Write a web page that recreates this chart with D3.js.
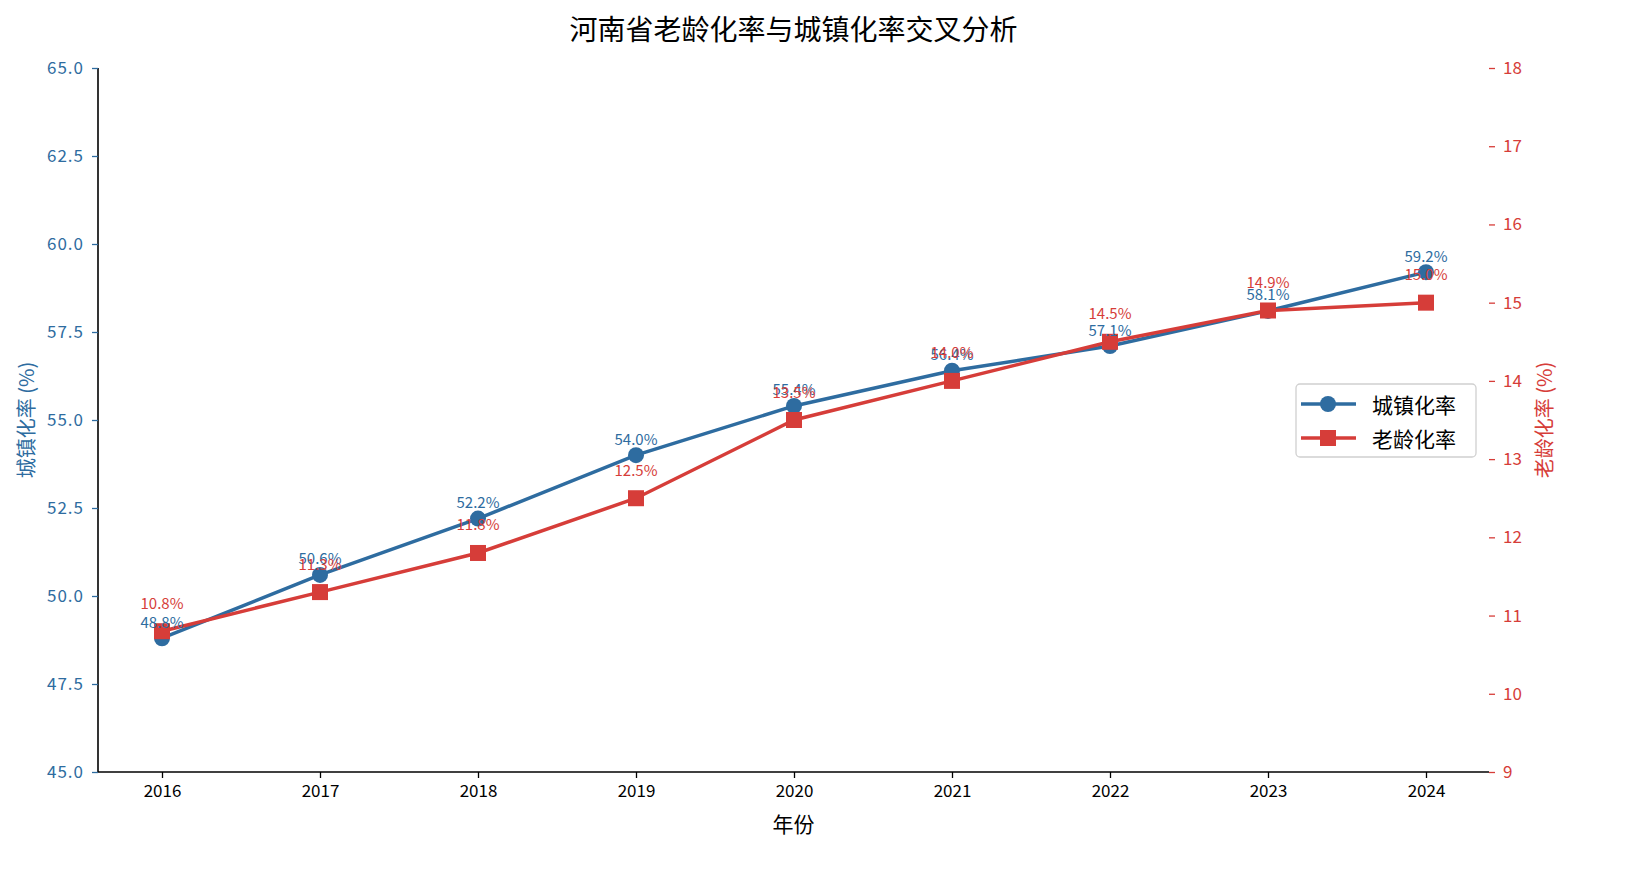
<!DOCTYPE html>
<html>
<head>
<meta charset="utf-8">
<script src="https://cdn.jsdelivr.net/npm/d3@7"></script>
<style>
  body { margin: 0; background: #fff; font-family: "Noto Sans CJK SC", "DejaVu Sans", sans-serif; }
</style>
</head>
<body>
<div id="container"><svg></svg></div>
<script>
let width = 1635, height = 885;
let lmargin = 98, rmargin = 1489, umargin = 68, dmargin = 772;

let years = [2016, 2017, 2018, 2019, 2020, 2021, 2022, 2023, 2024];
let urban = [48.8, 50.6, 52.2, 54.0, 55.4, 56.4, 57.1, 58.1, 59.2]; // 城镇化率
let aging = [10.8, 11.3, 11.8, 12.5, 13.5, 14.0, 14.5, 14.9, 15.0]; // 老龄化率
let left_ticks = [45, 47.5, 50, 52.5, 55, 57.5, 60, 62.5, 65];
let right_ticks = [9, 10, 11, 12, 13, 14, 15, 16, 17, 18];

let blue = "#2e6ca0", red = "#d63d39";
let font = '"Noto Sans CJK SC", sans-serif';

function draw_graph() {
    let svg = d3.select('#container').select('svg')
        .attr('width', width).attr('height', height)
        .style('font-family', font);

    let x = d3.scalePoint().domain(years).range([162, 1426]);
    let yl = d3.scaleLinear().domain([45, 65]).range([dmargin, umargin]);
    let yr = d3.scaleLinear().domain([9, 18]).range([dmargin, umargin]);

    // x轴
    let gx = svg.append('g').attr('transform', `translate(0,${dmargin})`)
        .call(d3.axisBottom(x).tickSize(6).tickPadding(7));
    gx.select('.domain').attr('d', `M${lmargin},0H${rmargin}`).attr('stroke', '#000').attr('stroke-width', 1.6);
    gx.selectAll('.tick line').attr('stroke', '#000').attr('stroke-width', 1.3);
    gx.selectAll('.tick text').attr('fill', '#000').style('font-size', '17px').style('font-family', font);

    // 左轴
    let gl = svg.append('g').attr('transform', `translate(${lmargin},0)`)
        .call(d3.axisLeft(yl).tickValues(left_ticks).tickFormat(d3.format('.1f')).tickSize(6).tickPadding(8));
    gl.select('.domain').attr('d', `M0,${umargin}V${dmargin}`).attr('stroke', '#000').attr('stroke-width', 1.6);
    gl.selectAll('.tick line').attr('stroke', blue).attr('stroke-width', 1.3);
    gl.selectAll('.tick text').attr('fill', blue).style('font-size', '17px').style('font-family', font)
        .attr('letter-spacing', '1px');

    // 右轴 (无轴线)
    let gr = svg.append('g').attr('transform', `translate(${rmargin},0)`)
        .call(d3.axisRight(yr).tickValues(right_ticks).tickFormat(d3.format('d')).tickSize(6).tickPadding(8));
    gr.select('.domain').remove();
    gr.selectAll('.tick line').attr('stroke', red).attr('stroke-width', 1.3);
    gr.selectAll('.tick text').attr('fill', red).style('font-size', '17px').style('font-family', font);

    // 折线
    let line_u = d3.line().x((d, i) => x(years[i])).y(d => yl(d));
    let line_a = d3.line().x((d, i) => x(years[i])).y(d => yr(d));

    svg.append('path').datum(urban).attr('d', line_u)
        .attr('fill', 'none').attr('stroke', blue).attr('stroke-width', 3.5);
    svg.append('g').selectAll('circle').data(urban).join('circle')
        .attr('cx', (d, i) => x(years[i])).attr('cy', d => yl(d)).attr('r', 8).attr('fill', blue);

    svg.append('path').datum(aging).attr('d', line_a)
        .attr('fill', 'none').attr('stroke', red).attr('stroke-width', 3.5);
    svg.append('g').selectAll('rect').data(aging).join('rect')
        .attr('x', (d, i) => x(years[i]) - 8).attr('y', d => yr(d) - 8)
        .attr('width', 16).attr('height', 16).attr('fill', red);

    // 数据标签
    svg.append('g').selectAll('text').data(urban).join('text')
        .attr('x', (d, i) => x(years[i])).attr('y', d => yl(d) - 17)
        .attr('text-anchor', 'middle').attr('dominant-baseline', 'central')
        .attr('fill', blue).style('font-size', '15px')
        .text(d => d.toFixed(1) + '%');
    svg.append('g').selectAll('text').data(aging).join('text')
        .attr('x', (d, i) => x(years[i])).attr('y', d => yr(d) - 29)
        .attr('text-anchor', 'middle').attr('dominant-baseline', 'central')
        .attr('fill', red).style('font-size', '15px')
        .text(d => d.toFixed(1) + '%');

    // 标题和轴标签
    svg.append('text').attr('x', (lmargin + rmargin) / 2).attr('y', 28)
        .attr('text-anchor', 'middle').attr('dominant-baseline', 'central')
        .style('font-size', '28px').attr('fill', '#000')
        .text('河南省老龄化率与城镇化率交叉分析');
    svg.append('text').attr('x', (lmargin + rmargin) / 2).attr('y', 823)
        .attr('text-anchor', 'middle').attr('dominant-baseline', 'central')
        .style('font-size', '21px').attr('fill', '#000').text('年份');
    svg.append('text').attr('transform', `translate(25,${(umargin + dmargin) / 2}) rotate(-90)`)
        .attr('text-anchor', 'middle').attr('dominant-baseline', 'central')
        .style('font-size', '20px').attr('fill', blue).text('城镇化率 (%)');
    svg.append('text').attr('transform', `translate(1543,${(umargin + dmargin) / 2}) rotate(-90)`)
        .attr('text-anchor', 'middle').attr('dominant-baseline', 'central')
        .style('font-size', '20px').attr('fill', red).text('老龄化率 (%)');

    // 图例
    let lg = svg.append('g').attr('transform', 'translate(1296,384)');
    lg.append('rect').attr('width', 180).attr('height', 73).attr('rx', 4)
        .attr('fill', '#fff').attr('fill-opacity', 0.8).attr('stroke', '#d0d0d0').attr('stroke-width', 1.3);
    let items = [{name: '城镇化率', color: blue, shape: 'circle'}, {name: '老龄化率', color: red, shape: 'square'}];
    items.forEach((d, i) => {
        let cy = 20 + i * 34;
        lg.append('line').attr('x1', 5).attr('x2', 60).attr('y1', cy).attr('y2', cy)
            .attr('stroke', d.color).attr('stroke-width', 3.5);
        if (d.shape == 'circle') {
            lg.append('circle').attr('cx', 32).attr('cy', cy).attr('r', 8).attr('fill', d.color);
        } else {
            lg.append('rect').attr('x', 24).attr('y', cy - 8).attr('width', 16).attr('height', 16).attr('fill', d.color);
        }
        lg.append('text').attr('x', 76).attr('y', cy).attr('dominant-baseline', 'central')
            .style('font-size', '21px').attr('fill', '#000').text(d.name);
    });
}

draw_graph();
</script>
</body>
</html>
